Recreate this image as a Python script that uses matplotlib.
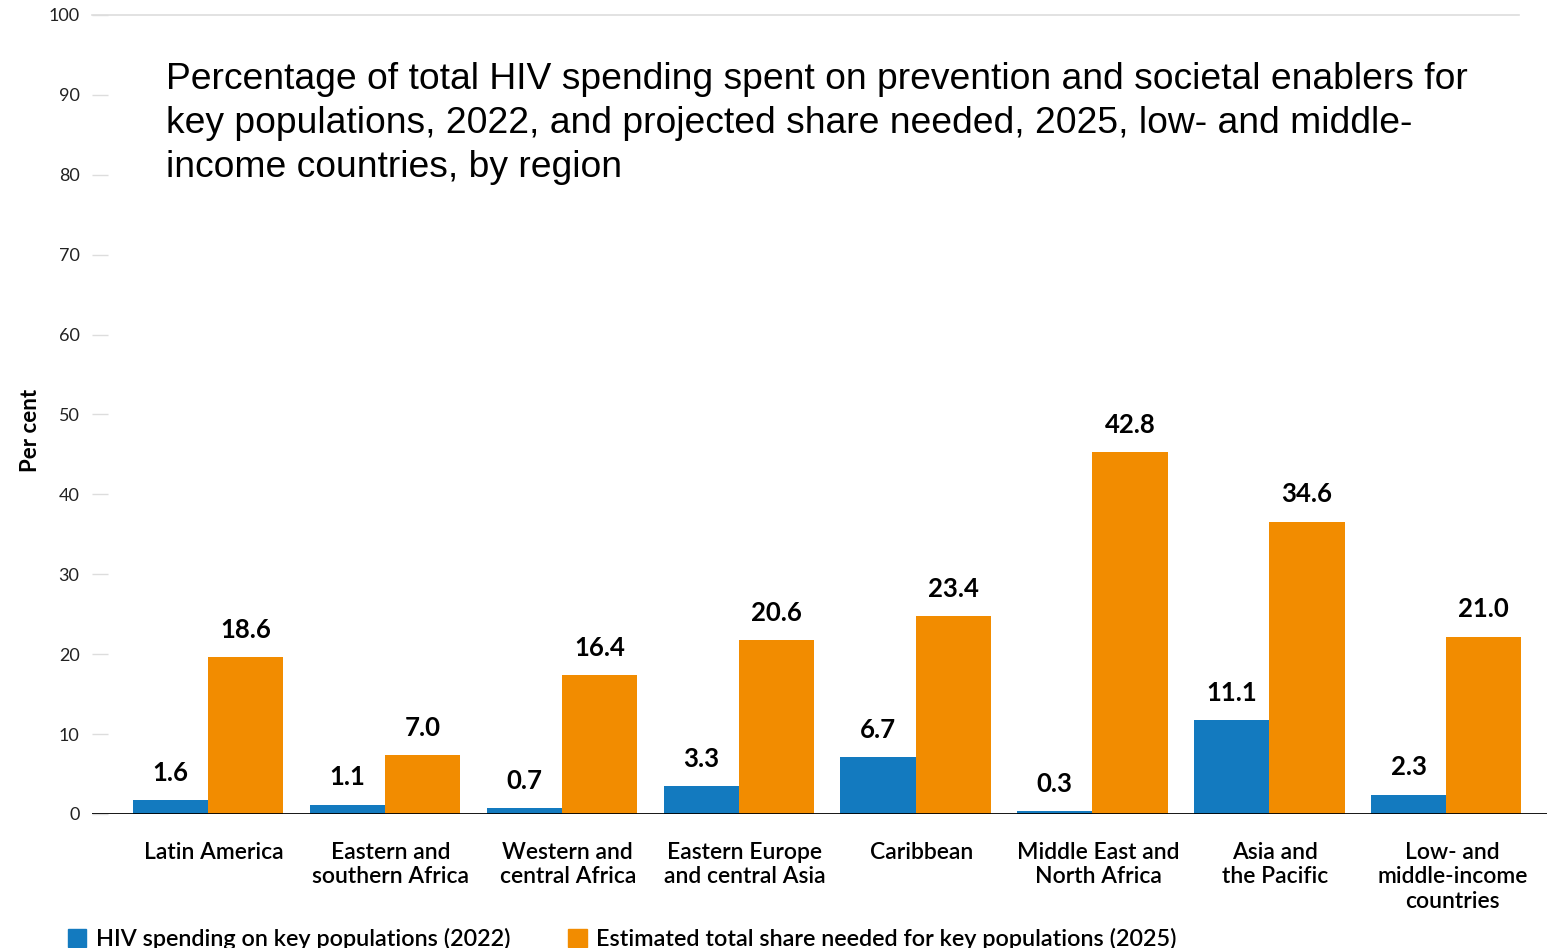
import numpy as np
import matplotlib.pyplot as plt
import matplotlib.transforms as mtransforms
from matplotlib.patches import Patch

# data
regions = ['Latin America', 'Eastern and\nsouthern Africa', 'Western and\ncentral Africa',
           'Eastern Europe\nand central Asia', 'Caribbean', 'Middle East and\nNorth Africa',
           'Asia and\nthe Pacific', 'Low- and\nmiddle-income\ncountries']
spend_2022 = [1.6, 1.1, 0.7, 3.3, 6.7, 0.3, 11.1, 2.3]
needed_2025 = [18.6, 7.0, 16.4, 20.6, 23.4, 42.8, 34.6, 21.0]
yticks = np.arange(0, 101, 10)

title = ('Percentage of total HIV spending spent on prevention and societal enablers for\n'
         'key populations, 2022, and projected share needed, 2025, low- and middle-\n'
         'income countries, by region')

blue = '#137ABF'
orange = '#F28C00'
font = 'Lato'
# the source axis is drawn slightly compressed relative to bar values
axis_scale = 1.057

fig = plt.figure(figsize=(15.57, 9.48), dpi=100)
ax = fig.add_axes([0.0591, 0.1414, 0.9345, 0.8428])

x = np.arange(len(regions))
w = 0.425
b1 = ax.bar(x - w/2, spend_2022, w, color=blue, label='HIV spending on key populations (2022)')
b2 = ax.bar(x + w/2, needed_2025, w, color=orange, label='Estimated total share needed for key populations (2025)')

for bars, vals in ((b1, spend_2022), (b2, needed_2025)):
    for r, v in zip(bars, vals):
        ax.annotate(f'{v:.1f}', (r.get_x() + r.get_width()/2, r.get_height()),
                    xytext=(0, 11), textcoords='offset points', ha='center', va='bottom',
                    fontsize=18.5, fontweight='bold', family=font)

ymax = 100 / axis_scale
ax.set_ylim(0, ymax)
ax.set_xlim(-0.656, 7.57)
ax.set_yticks(yticks / axis_scale, [str(t) for t in yticks])
ax.set_xticks(x, regions)
ax.tick_params(axis='y', direction='in', length=11.5, width=1, color='#dddddd',
               pad=9, labelsize=13, labelcolor='#222222')
ax.tick_params(axis='x', length=0, pad=20, labelsize=16.5)
for lab in ax.get_yticklabels():
    lab.set_family(font)
shift = mtransforms.ScaledTranslation(6/100, 0, fig.dpi_scale_trans)
for lab in ax.get_xticklabels():
    lab.set_family(font)
    lab.set_fontweight('semibold')
    lab.set_linespacing(1.22)
    lab.set_transform(lab.get_transform() + shift)
for s in ax.spines.values():
    s.set_visible(False)

ax.axhline(ymax, xmin=0, xmax=0.981, color='#dddddd', lw=1.2, clip_on=False)
ax.axhline(0, color='black', lw=2, zorder=3)

ax.text(0.0508, 0.941, title, transform=ax.transAxes, ha='left', va='top',
        fontsize=26.8, family='Liberation Sans', linespacing=1.33)

ax.set_ylabel('Per cent', fontsize=16, fontweight='bold', family=font)
ax.yaxis.set_label_coords(-0.035, 0.48)

handles = [Patch(color=blue, label=b1.get_label()), Patch(color=orange, label=b2.get_label())]
fig.legend(handles=handles, loc='lower left', bbox_to_anchor=(0.030, -0.024), ncol=2,
           frameon=False, prop={'family': font, 'size': 16.8, 'weight': 'semibold'},
           handlelength=0.8, handleheight=0.8, handletextpad=0.4, columnspacing=2.47)

fig.savefig('out.png', dpi=100)
